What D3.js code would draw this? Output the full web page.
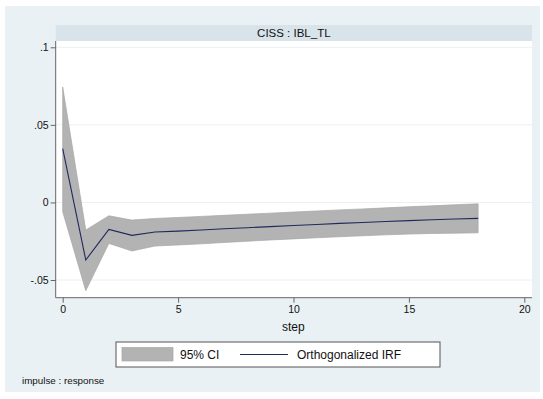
<!DOCTYPE html>
<html>
<head>
<meta charset="utf-8">
<script src="https://cdn.jsdelivr.net/npm/d3@7"></script>
<style>
  html, body { margin: 0; padding: 0; background: #ffffff; }
  svg { display: block; }
  text { font-family: "Liberation Sans", Arial, Helvetica, sans-serif; fill: #111; }
</style>
</head>
<body>
<svg id="chart" width="543" height="399"></svg>
<script>
// Impulse-response of IBL_TL to a CISS shock, with 95% band
const steps = d3.range(0, 19);
const irf   = [0.0347, -0.0371, -0.0174, -0.0212, -0.0191, -0.0185, -0.0178, -0.0170, -0.0163,
               -0.0156, -0.0149, -0.0142, -0.0135, -0.0129, -0.0123, -0.0117, -0.0112, -0.0107, -0.0103];
const upper = [0.0744, -0.0178, -0.0086, -0.0114, -0.0103, -0.0097, -0.0090, -0.0083, -0.0076,
               -0.0069, -0.0062, -0.0055, -0.0048, -0.0042, -0.0035, -0.0028, -0.0022, -0.0015, -0.0009];
const lower = [-0.0060, -0.0569, -0.0264, -0.0313, -0.0281, -0.0274, -0.0267, -0.0258, -0.0250,
               -0.0242, -0.0235, -0.0228, -0.0221, -0.0215, -0.0209, -0.0204, -0.0200, -0.0198, -0.0196];
const yTicks = [-0.05, 0, 0.05, 0.1];
const yTickLabels = ["-.05", "0", ".05", ".1"];
const xTicks = [0, 5, 10, 15, 20];
const panelTitle = "CISS : IBL_TL";
const xTitle = "step";
const legendLabels = ["95% CI", "Orthogonalized IRF"];
const note = "impulse : response";

const svg = d3.select("#chart");

// outer graph region
svg.append("rect").attr("x", 5).attr("y", 6).attr("width", 535).attr("height", 386)
  .attr("fill", "#eaf1f4");

const plot = { left: 55.7, right: 532, top: 41, bottom: 297.7 };

// panel header strip
svg.append("rect").attr("x", plot.left).attr("y", 25)
  .attr("width", plot.right - plot.left).attr("height", 16).attr("fill", "#d8e3ea");
svg.append("text").attr("x", (plot.left + plot.right) / 2).attr("y", 37)
  .attr("text-anchor", "middle").attr("font-size", 11.5).text(panelTitle);

// plot region
svg.append("rect").attr("x", plot.left).attr("y", plot.top)
  .attr("width", plot.right - plot.left).attr("height", plot.bottom - plot.top).attr("fill", "#ffffff");

const x = d3.scaleLinear().domain([0, 20]).range([62.7, 524.3]);
const y = d3.scaleLinear().domain([-0.05, 0.1]).range([280, 47.3]);

// gridlines
svg.append("g").selectAll("line").data(yTicks).join("line")
  .attr("x1", plot.left).attr("x2", plot.right)
  .attr("y1", d => y(d)).attr("y2", d => y(d))
  .attr("stroke", "#eaf0f3").attr("stroke-width", 1);

// confidence band
const band = d3.area()
  .x((d, i) => x(steps[i]))
  .y0((d, i) => y(lower[i]))
  .y1((d, i) => y(upper[i]));
svg.append("path").datum(steps).attr("d", band)
  .attr("fill", "#b3b3b3").attr("stroke", "#a6a6a6").attr("stroke-width", 0.7);

// IRF line
const line = d3.line().x((d, i) => x(steps[i])).y((d, i) => y(irf[i]));
svg.append("path").datum(steps).attr("d", line)
  .attr("fill", "none").attr("stroke", "#1f2a5c").attr("stroke-width", 1.1);

// axes
const yAxis = d3.axisLeft(y).tickValues(yTicks)
  .tickFormat(d => yTickLabels[yTicks.indexOf(d)]).tickSize(5).tickPadding(2);
const gy = svg.append("g").attr("transform", `translate(${plot.left},0)`).call(yAxis);
gy.select(".domain").remove();
gy.append("line").attr("x1", 0).attr("x2", 0).attr("y1", plot.top).attr("y2", plot.bottom)
  .attr("stroke", "#666").attr("stroke-width", 1);
gy.selectAll(".tick line").attr("stroke", "#666");
gy.selectAll(".tick text").attr("font-size", 10.5).attr("fill", "#111")
  .attr("font-family", "Liberation Sans, Arial, sans-serif");

const xAxis = d3.axisBottom(x).tickValues(xTicks).tickSize(5).tickPadding(3);
const gx = svg.append("g").attr("transform", `translate(0,${plot.bottom})`).call(xAxis);
gx.select(".domain").remove();
gx.append("line").attr("x1", plot.left).attr("x2", plot.right).attr("y1", 0).attr("y2", 0)
  .attr("stroke", "#666").attr("stroke-width", 1);
gx.selectAll(".tick line").attr("stroke", "#666");
gx.selectAll(".tick text").attr("font-size", 10.5).attr("fill", "#111")
  .attr("font-family", "Liberation Sans, Arial, sans-serif");

svg.append("text").attr("x", (plot.left + plot.right) / 2 - 0.5).attr("y", 331)
  .attr("text-anchor", "middle").attr("font-size", 12).text(xTitle);

// legend
const lg = svg.append("g");
lg.append("rect").attr("x", 116).attr("y", 342).attr("width", 324).attr("height", 25)
  .attr("fill", "#ffffff").attr("stroke", "#555").attr("stroke-width", 1);
lg.append("rect").attr("x", 122).attr("y", 347.5).attr("width", 51).attr("height", 13.5)
  .attr("fill", "#b3b3b3").attr("stroke", "#a6a6a6").attr("stroke-width", 0.7);
lg.append("text").attr("x", 180).attr("y", 359).attr("font-size", 12).text(legendLabels[0]);
lg.append("line").attr("x1", 240).attr("x2", 288).attr("y1", 354.5).attr("y2", 354.5)
  .attr("stroke", "#1f2a5c").attr("stroke-width", 1.1);
lg.append("text").attr("x", 297).attr("y", 359).attr("font-size", 12).text(legendLabels[1]);

svg.append("text").attr("x", 22).attr("y", 384).attr("font-size", 9.8).text(note);
</script>
</body>
</html>
